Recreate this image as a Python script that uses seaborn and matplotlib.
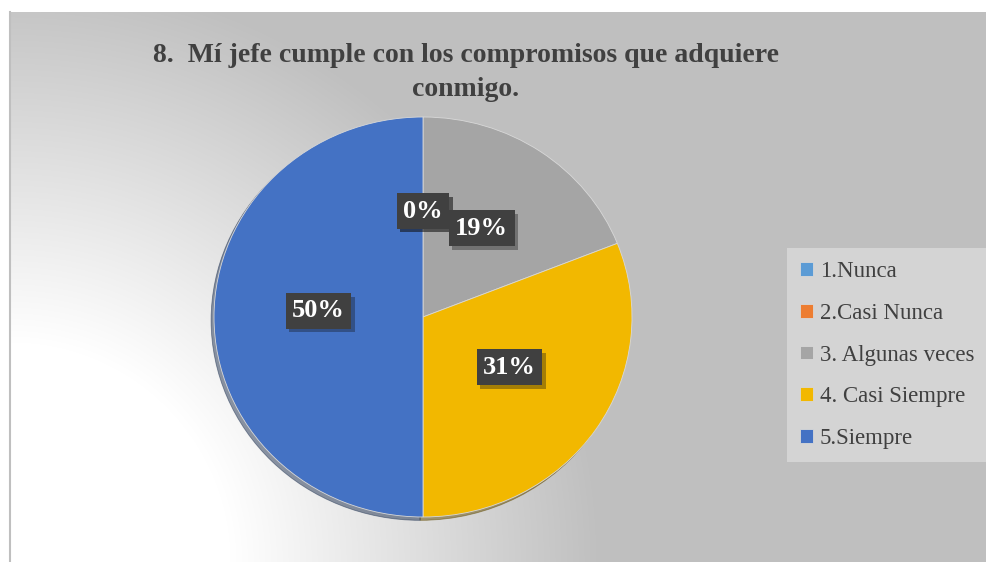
import numpy as np
import matplotlib
matplotlib.use("Agg")
import matplotlib.pyplot as plt
import matplotlib.patheffects as pe
import seaborn as sns

categories = ["1.Nunca", "2.Casi Nunca", "3. Algunas veces", "4. Casi Siempre", "5.Siempre"]
values = [0, 0, 19, 31, 50]
pct_labels = ["0%", "0%", "19%", "31%", "50%"]
colors = ["#5B9BD5", "#ED7D31", "#A5A5A5", "#F2B800", "#4472C4"]
title = "8.  Mí jefe cumple con los compromisos que adquiere\nconmigo."

sns.set_theme(style="white")
plt.rcParams['font.family'] = ['Liberation Serif', 'DejaVu Serif']

W, H = 987, 562
fig = plt.figure(figsize=(W / 100, H / 100), dpi=100)
fig.patch.set_facecolor('white')

# ---- background panel with gradient ----
bx0, by0 = 10, 12
bw, bh = W - bx0, H - by0
bg = fig.add_axes([bx0 / W, 0, bw / W, bh / H])
xx, yy = np.meshgrid(np.arange(bw), np.arange(bh))
d = np.sqrt(xx ** 2 + (bh - yy) ** 2)
t = np.clip((d - 220) / 370, 0, 1)
g = 1 - t * (1 - 0.75)
bg.imshow(np.dstack([g, g, g]), aspect='auto', extent=[0, bw, bh, 0], interpolation='bilinear')
bg.set_xticks([]); bg.set_yticks([])
for s in ['top', 'right', 'bottom']:
    bg.spines[s].set_visible(False)
bg.spines['left'].set_color('#bfbfbf')
bg.spines['left'].set_linewidth(1.5)

# ---- pie (slightly wider than tall, as in the reference) ----
cx, cy, rx, ry = 423, 317, 209, 200
ax = fig.add_axes([(cx - rx) / W, (H - cy - ry) / H, 2 * rx / W, 2 * ry / H])
ax.set_facecolor('none')
wedges, _ = ax.pie(values, colors=colors, startangle=90, counterclock=False, radius=1,
                   wedgeprops=dict(linewidth=0.6, edgecolor='#d8d8d8'),
                   shadow=dict(ox=-0.01, oy=-0.012, shade=0.6))
ax.set_xlim(-1.0, 1.0); ax.set_ylim(-1.0, 1.0)
ax.set_aspect('auto')
ax.axis('off')

seen = set()
for w, lab in zip(wedges, pct_labels):
    ang = np.deg2rad((w.theta1 + w.theta2) / 2)
    x, y = 0.5 * np.cos(ang), 0.5 * np.sin(ang) + 0.03
    key = (round(x, 3), round(y, 3))
    if key in seen:
        continue
    seen.add(key)
    txt = ax.text(x, y, lab, ha='center', va='center', fontsize=19, fontweight='bold', color='white',
                  bbox=dict(boxstyle='square,pad=0.24', facecolor='#404040', edgecolor='none'))
    txt.get_bbox_patch().set_path_effects([pe.SimplePatchShadow(offset=(2.5, -2.5), alpha=0.35),
                                           pe.Normal()])

# ---- title ----
fig.text(466 / W, 1 - 43 / H, title, ha='center', va='top', multialignment='center',
         fontsize=20, fontweight='bold', color='#404040', linespacing=1.5)

# ---- legend ----
leg = fig.legend(handles=wedges, labels=categories, loc='upper left',
                 bbox_to_anchor=(787 / W, 1 - 248 / H), frameon=True, fontsize=16.5,
                 handlelength=0.55, handleheight=0.55, labelspacing=0.9, handletextpad=0.3,
                 borderpad=0.58, borderaxespad=0, fancybox=False)
leg.get_frame().set_facecolor('#d4d4d4')
leg.get_frame().set_edgecolor('none')
leg.get_frame().set_alpha(1)
for txt in leg.get_texts():
    txt.set_color('#404040')

fig.savefig('out.png', dpi=100)
